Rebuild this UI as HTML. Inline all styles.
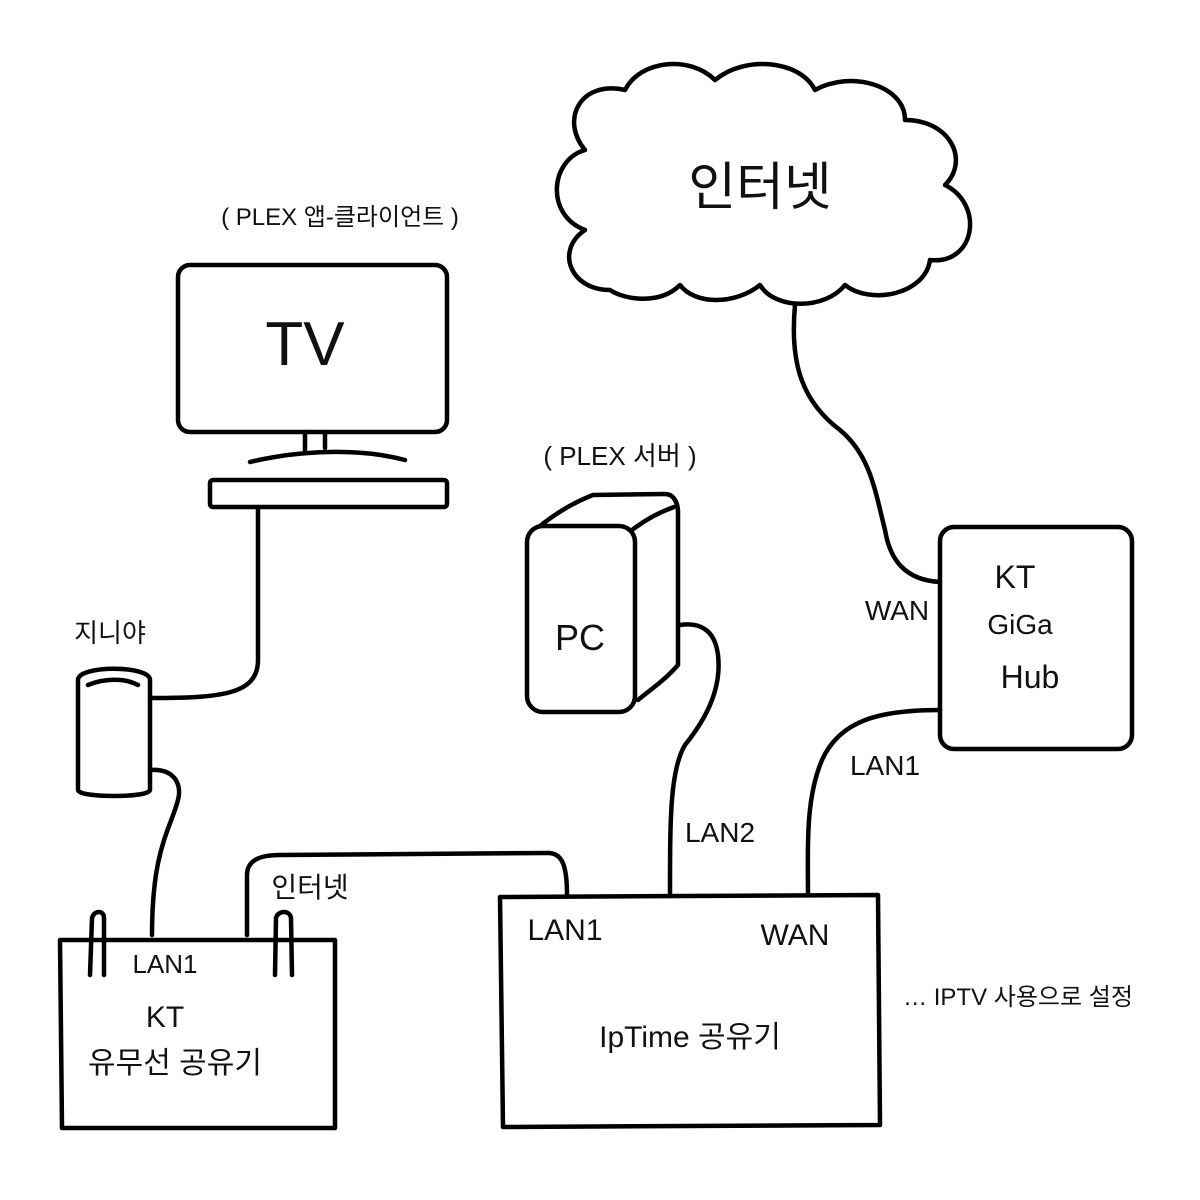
<!DOCTYPE html>
<html><head><meta charset="utf-8"><style>
html,body{margin:0;padding:0;background:#fff}
svg{display:block}
text{font-family:"Liberation Sans","Noto Sans CJK KR","NanumGothic",sans-serif;fill:#111}
</style></head><body>
<svg width="1200" height="1200" viewBox="0 0 1200 1200" xmlns="http://www.w3.org/2000/svg">
<g fill="none" stroke="#000" stroke-width="4.5" stroke-linecap="round" stroke-linejoin="round">
<!-- cloud -->
<path d="M610,290 C570,290 555,250 585,230 C545,215 550,160 585,150 C560,120 580,80 625,90 C640,60 690,55 715,80 C745,55 800,60 815,90 C850,70 905,85 905,120 C950,120 970,160 945,185 C985,205 975,265 930,260 C925,295 870,305 845,285 C825,310 775,310 760,285 C735,305 695,305 680,285 C660,305 625,300 610,290 Z"/>
<!-- cloud to hub -->
<path d="M795,305 C790,360 800,400 840,430 C870,455 875,490 885,530 C890,560 905,580 940,582"/>
<!-- hub -->
<rect x="940" y="527" width="192" height="222" rx="14"/>
<!-- hub LAN1 to iptime WAN -->
<path d="M940,710 C880,710 840,720 822,760 C805,800 808,850 808,895"/>
<!-- TV -->
<rect x="178" y="265" width="269" height="167" rx="12"/>
<path d="M305,432 L305,450 M325,432 L325,448"/>
<path d="M250,462 C300,450 360,448 405,460"/>
<rect x="210" y="480" width="237" height="27" rx="3"/>
<path d="M258,507 L258,660 C258,695 220,698 150,698"/>
<!-- genie cylinder -->
<path d="M78,680 C78,665 150,665 150,680 L150,790 C150,798 78,798 78,790 Z"/>
<path d="M88,685 C105,678 125,678 138,685"/>
<path d="M150,770 C175,768 182,785 178,800 C170,830 152,850 152,935"/>
<!-- KT router -->
<path d="M60,940 L335,940 L335,1128 L62,1128 Z"/>
<path d="M90,975 L92,918 C94,910 104,910 104,918 L104,975"/>
<path d="M275,975 L276,918 C278,910 290,910 291,918 L292,975"/>
<path d="M247,935 L247,875 C247,860 260,855 280,855 L548,853 C562,853 567,865 567,895"/>
<!-- IpTime -->
<path d="M500,897 L878,895 L880,1125 L503,1127 Z"/>
<!-- PC -->
<path d="M540,526 C560,510 580,500 593,495 L665,494 C675,494 678,505 678,512 L678,665 C665,680 650,690 638,700"/>
<path d="M632,530 C645,520 660,512 674,507"/>
<rect x="527" y="526" width="108" height="186" rx="16"/>
<path d="M680,625 C700,622 715,630 718,655 C722,690 705,720 685,745 C670,770 670,820 670,895"/>
</g>
<g font-size="30">
<text x="760" y="205" font-size="52" text-anchor="middle">인터넷</text>
<text x="1015" y="588" font-size="32" text-anchor="middle">KT</text>
<text x="1020" y="634" font-size="28" text-anchor="middle">GiGa</text>
<text x="1030" y="688" font-size="32" text-anchor="middle">Hub</text>
<text x="897" y="620" font-size="28" text-anchor="middle">WAN</text>
<text x="885" y="775" font-size="28" text-anchor="middle">LAN1</text>
<text x="305" y="365" font-size="62" text-anchor="middle">TV</text>
<text x="340" y="225" font-size="24" text-anchor="middle">( PLEX 앱-클라이언트 )</text>
<text x="620" y="465" font-size="26" text-anchor="middle">( PLEX 서버 )</text>
<text x="580" y="650" font-size="36" text-anchor="middle">PC</text>
<text x="720" y="842" font-size="28" text-anchor="middle">LAN2</text>
<text x="110" y="642" font-size="26" text-anchor="middle">지니야</text>
<text x="165" y="973" font-size="26" text-anchor="middle">LAN1</text>
<text x="165" y="1027" font-size="30" text-anchor="middle">KT</text>
<text x="175" y="1073" font-size="30" text-anchor="middle">유무선 공유기</text>
<text x="310" y="897" font-size="28" text-anchor="middle">인터넷</text>
<text x="565" y="940" font-size="30" text-anchor="middle">LAN1</text>
<text x="795" y="945" font-size="30" text-anchor="middle">WAN</text>
<text x="690" y="1047" font-size="30" text-anchor="middle">IpTime  공유기</text>
<text x="1018" y="1005" font-size="24" text-anchor="middle">… IPTV 사용으로 설정</text>
</g>
</svg>
</body></html>
